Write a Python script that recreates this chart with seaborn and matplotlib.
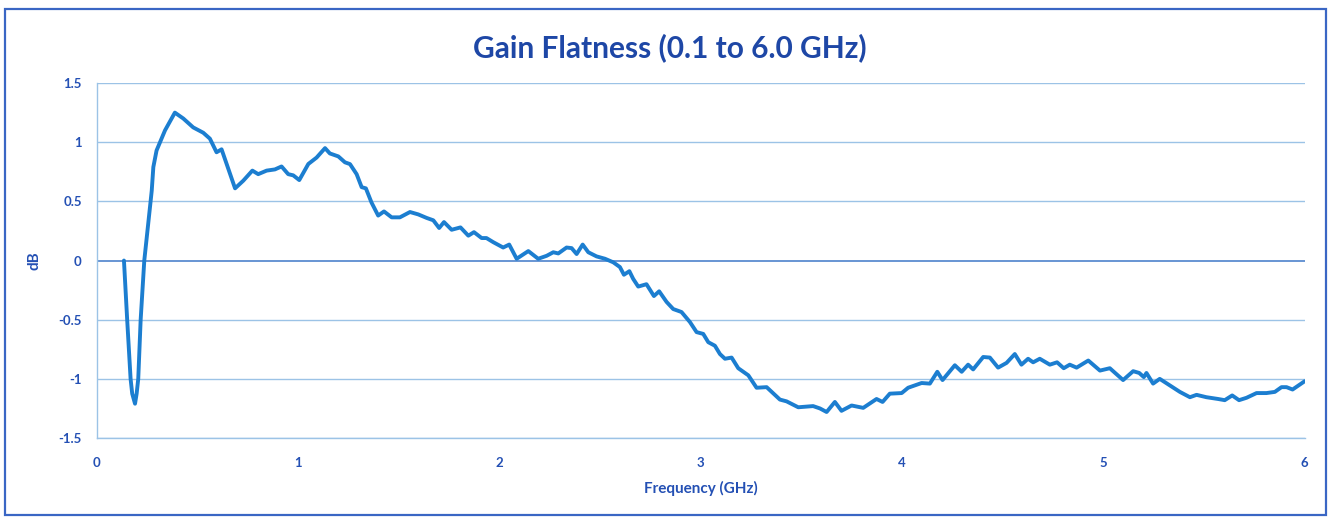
import matplotlib
matplotlib.use("Agg")
import pandas as pd
import seaborn as sns
import matplotlib.pyplot as plt
from matplotlib.patches import Rectangle

# values
freq_ghz = [0.134, 0.150, 0.167, 0.175, 0.189, 0.197, 0.205, 0.217, 0.235, 0.272,
            0.280, 0.296, 0.338, 0.387, 0.429, 0.478,
            0.528, 0.561, 0.594, 0.619, 0.644, 0.686, 0.727, 0.772, 0.801, 0.843,
            0.884, 0.917, 0.950, 0.975, 1.005, 1.050, 1.091, 1.133, 1.157, 1.199,
            1.232, 1.257, 1.290, 1.315, 1.336, 1.364, 1.397, 1.426, 1.464, 1.505,
            1.555, 1.596, 1.638, 1.671, 1.700, 1.724, 1.762, 1.806, 1.845, 1.873,
            1.911, 1.935, 1.969, 2.018, 2.048, 2.085, 2.143, 2.192, 2.234, 2.267,
            2.292, 2.333, 2.358, 2.383, 2.413, 2.441, 2.482, 2.524, 2.565, 2.598,
            2.618, 2.645, 2.664, 2.689, 2.730, 2.767, 2.793, 2.830, 2.863, 2.904,
            2.946, 2.979, 3.012, 3.037, 3.070, 3.095, 3.120, 3.153, 3.186, 3.236,
            3.277, 3.327, 3.393, 3.426, 3.484, 3.558, 3.592, 3.625, 3.666, 3.699,
            3.749, 3.807, 3.873, 3.903, 3.939, 3.998, 4.030, 4.097, 4.138, 4.175,
            4.201, 4.262, 4.296, 4.328, 4.353, 4.403, 4.436, 4.477, 4.519, 4.560,
            4.593, 4.626, 4.651, 4.684, 4.734, 4.770, 4.803, 4.833, 4.867, 4.925,
            4.983, 5.032, 5.098, 5.148, 5.178, 5.201, 5.214, 5.247, 5.280, 5.330,
            5.380, 5.430, 5.463, 5.512, 5.570, 5.603, 5.640, 5.674, 5.711, 5.761,
            5.810, 5.852, 5.885, 5.910, 5.940, 6.000]
gain_db = [0.00, -0.50, -1.00, -1.125, -1.21, -1.125, -1.00, -0.50, 0.00, 0.59,
           0.79, 0.93, 1.10, 1.25, 1.20, 1.125,
           1.08, 1.03, 0.915, 0.94, 0.816, 0.61, 0.675, 0.76, 0.73, 0.76,
           0.77, 0.795, 0.73, 0.72, 0.68, 0.816, 0.87, 0.95, 0.905, 0.88,
           0.83, 0.815, 0.73, 0.62, 0.61, 0.49, 0.38, 0.415, 0.365, 0.365,
           0.41, 0.39, 0.36, 0.34, 0.275, 0.325, 0.26, 0.28, 0.21, 0.24,
           0.19, 0.19, 0.155, 0.11, 0.135, 0.015, 0.08, 0.015, 0.04, 0.07,
           0.06, 0.11, 0.105, 0.055, 0.135, 0.07, 0.035, 0.015, -0.015, -0.055,
           -0.12, -0.09, -0.155, -0.22, -0.20, -0.30, -0.26, -0.35, -0.41, -0.435,
           -0.52, -0.605, -0.62, -0.69, -0.72, -0.79, -0.83, -0.82, -0.91, -0.97,
           -1.075, -1.07, -1.175, -1.19, -1.24, -1.23, -1.25, -1.28, -1.195, -1.27,
           -1.225, -1.245, -1.17, -1.195, -1.125, -1.12, -1.075, -1.035, -1.04, -0.94,
           -1.01, -0.885, -0.94, -0.88, -0.92, -0.815, -0.82, -0.905, -0.865, -0.79,
           -0.88, -0.83, -0.86, -0.83, -0.88, -0.86, -0.91, -0.88, -0.905, -0.845,
           -0.93, -0.91, -1.01, -0.935, -0.95, -0.985, -0.95, -1.04, -1.00, -1.055,
           -1.11, -1.155, -1.135, -1.155, -1.17, -1.18, -1.14, -1.18, -1.16, -1.12,
           -1.12, -1.11, -1.07, -1.07, -1.09, -1.02]
x_ticks = [0, 1, 2, 3, 4, 5, 6]
y_ticks = [-1.5, -1, -0.5, 0, 0.5, 1, 1.5]
y_tick_labels = ["-1.5", "-1", "-0.5", "0", "0.5", "1", "1.5"]

df = pd.DataFrame({"Frequency": freq_ghz, "Gain": gain_db})

sns.set_style("white")
plt.rcParams["font.family"] = ["Lato", "DejaVu Sans"]

text_blue = "#2450B4"
grid_blue = "#9CC3E6"

fig = plt.figure(figsize=(13.34, 5.19), dpi=100)
ax = fig.add_axes([0.0727, 0.156, 0.9053, 0.684])

sns.lineplot(data=df, x="Frequency", y="Gain", ax=ax, sort=False,
             color="#1C7ED0", linewidth=2.8, zorder=3,
             solid_joinstyle="round", solid_capstyle="round")

ax.set_xlim(0, 6)
ax.set_ylim(-1.5, 1.5)
ax.set_xticks(x_ticks)
ax.set_yticks(y_ticks)
ax.set_yticklabels(y_tick_labels)
ax.tick_params(axis="x", length=0, labelsize=9.5, colors=text_blue, pad=14)
ax.tick_params(axis="y", length=0, labelsize=9.5, colors=text_blue, pad=11)
for lbl in ax.get_xticklabels() + ax.get_yticklabels():
    lbl.set_fontweight("bold")

for y in y_ticks:
    if y == 0:
        ax.axhline(y, color="#3F78C8", linewidth=1.1, zorder=1)
    else:
        ax.axhline(y, color=grid_blue, linewidth=1.0, zorder=1)

for side in ["top", "right"]:
    ax.spines[side].set_visible(False)
for side in ["left", "bottom"]:
    ax.spines[side].set_color(grid_blue)
    ax.spines[side].set_linewidth(1.0)

ax.set_xlabel("Frequency (GHz)", fontsize=11, fontweight="bold", color=text_blue, labelpad=8)
ax.set_ylabel("dB", fontsize=11, fontweight="bold", color=text_blue, labelpad=12)

fig.suptitle("Gain Flatness (0.1 to 6.0 GHz)", x=0.502, y=0.937, fontsize=21.5,
             fontweight="bold", color="#1E47A6")

fig.patches.append(Rectangle((0.004, 0.008), 0.99, 0.975, transform=fig.transFigure,
                             fill=False, edgecolor="#3A66C4", linewidth=1.6))

fig.savefig("out.png", dpi=100)
